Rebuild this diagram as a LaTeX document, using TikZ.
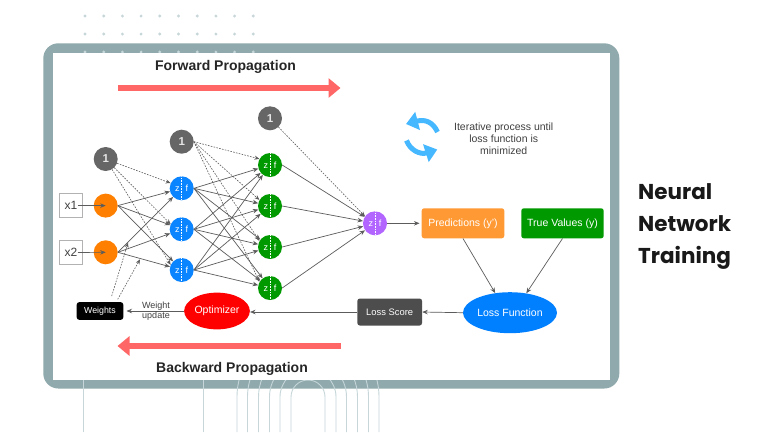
\documentclass[tikz,border=0pt]{standalone}
\usepackage{fontspec}
\setmainfont{Liberation Sans}
\newfontfamily\titlefont{Poppins}
\usetikzlibrary{positioning,calc,shapes.geometric,arrows,arrows.meta}
\definecolor{framecol}{HTML}{8FA9AC}
\definecolor{tracecol}{HTML}{C6D6D9}
\definecolor{redarrow}{HTML}{FF6666}
\definecolor{cyclecol}{HTML}{45B8FF}
\definecolor{linecol}{HTML}{5C5C5C}
\definecolor{biascol}{HTML}{666666}
\definecolor{inputcol}{HTML}{FF8000}
\definecolor{hiddenblue}{HTML}{0A84FF}
\definecolor{hiddengreen}{HTML}{009900}
\definecolor{outcol}{HTML}{B266FF}
\definecolor{predcol}{HTML}{FF9933}
\definecolor{losscol}{HTML}{007FFF}
\definecolor{scorecol}{HTML}{4D4D4D}

\begin{document}
\begin{tikzpicture}[x=1pt,y=-1pt]
    \tikzstyle{every node}=[inner sep=0]
    \tikzstyle{note}=[align=center,text=black!75]
    \tikzstyle{heading}=[font=\bfseries\fontsize{14}{16}\selectfont,text=black!85]
    \tikzstyle{inbox}=[draw=black!30,line width=0.8,minimum size=23.5,font=\fontsize{12}{14}\selectfont,text=black!75]
    \tikzstyle{bias}=[circle,fill=biascol,minimum size=24,text=white!90!black,font=\bfseries\fontsize{11.5}{13}\selectfont]
    \tikzstyle{input}=[circle,fill=inputcol,minimum size=24]
    \tikzstyle{neuron}=[circle,minimum size=24,text=white,font=\fontsize{9}{11}\selectfont,
        path picture={\draw[white,densely dotted,line width=0.6] (path picture bounding box.north) -- (path picture bounding box.south);}]
    \tikzstyle{block}=[rounded corners=2.5,text=white,font=\fontsize{10.5}{12}\selectfont]
    \tikzstyle{wire}=[-{Stealth[length=5.5,width=4.5]},linecol,line width=0.7]
    \tikzstyle{dots}=[-{Stealth[length=5,width=4]},linecol,line width=0.6,dash pattern=on 1.6 off 1.3]
    \tikzstyle{bigarrow}=[redarrow,line width=6,-{Triangle[length=12,width=19]}]
    \tikzstyle{cycle}=[cyclecol,line width=5,-{Triangle[length=12,width=18]}]
    {
        \fill[white] (0,0) rectangle (768,432);
        \useasboundingbox (0,0) rectangle (768,432);

        % frame with traces and dots over it
        \fill[framecol,rounded corners=15] (43.3,43.3) rectangle (619.3,388.5);
        \foreach \x in {83.5,203}
            \draw[tracecol,line width=0.9] (\x,432) -- (\x,370);
        \foreach \r in {17,28,38.5,49.5,60.5,71}
            \draw[tracecol,line width=0.9] (308-\r,432) -- (308-\r,397) arc[start angle=180,end angle=360,radius=\r] -- (308+\r,432);
        \foreach \i in {0,...,9}
            \foreach \y in {16,34,52}
                \fill[tracecol] (85+18.7*\i,\y) circle (1.6);
        \fill[white] (53.3,53.3) rectangle (610,380);

        \node[heading] (fwdlabel) at (225.5,67) {Forward Propagation};
        \node[heading] (backlabel) at (232,368.5) {Backward Propagation};

        \coordinate (fwdstart) at (118,88);
        \coordinate (fwdend) at (340.5,88);
        \coordinate (backstart) at (340.5,346);
        \coordinate (backend) at (117.5,346);
        \draw[bigarrow] (fwdstart) -- (fwdend);
        \draw[bigarrow] (backstart) -- (backend);

        % input layer
        \node[inbox] (x1) at (71,205.5) {x1};
        \node[inbox] (x2) at (71,252.5) {x2};
        \node[input] (in1) at (105.7,205.6) {};
        \node[input] (in2) at (105.7,252.3) {};
        \node[bias] (b1) at (105.7,159) {1};
        \node[bias] (b2) at (181.7,141.7) {1};
        \node[bias] (b3) at (270,118.3) {1};

        % hidden layers
        \foreach \n/\y in {1/188.3,2/229.3,3/270}
            \node[neuron,fill=hiddenblue] (h\n) at (181.7,\y) {z\hspace{6pt}f};
        \foreach \n/\y in {1/165,2/206,3/247,4/288}
            \node[neuron,fill=hiddengreen] (g\n) at (270,\y) {z\hspace{6pt}f};
        \node[neuron,fill=outcol] (out) at (375,223.3) {z\hspace{6pt}f};

        \draw[wire,shorten <=7] (x1.center) -- (in1.center);
        \draw[wire,shorten <=7] (x2.center) -- (in2.center);

        \foreach \a in {1,2}
            \foreach \b in {1,2,3}
                \draw[wire] (in\a.east) -- (h\b);
        \foreach \a in {1,2,3}
            \foreach \b in {1,2,3,4}
                \draw[wire] (h\a.east) -- (g\b);
        \foreach \a in {1,2,3,4}
            \draw[wire] (g\a.east) -- (out);

        \foreach \b in {1,2,3}
            \draw[dots] (b1) -- (h\b.155);
        \foreach \b in {1,2,3,4}
            \draw[dots] (b2.east) -- (g\b.150);
        \draw[dots] (b3) -- (out.145);

        % output side
        \node[block,fill=predcol,minimum width=82.6,minimum height=30] (pred) at (463,223.3) {Predictions (y')};
        \node[block,fill=hiddengreen,minimum width=82.4,minimum height=30] (truth) at (562.5,223.3) {True Values (y)};
        \node[ellipse,fill=losscol,minimum width=94,minimum height=41,text=white,font=\fontsize{10.5}{12}\selectfont] (loss) at (510,312.7) {Loss Function};
        \node[block,fill=scorecol,minimum width=64.7,minimum height=27,font=\fontsize{9.4}{11}\selectfont] (score) at (389.7,312) {Loss Score};
        \node[ellipse,fill=red,minimum width=65.7,minimum height=36.7,text=white,font=\fontsize{10.5}{12}\selectfont] (optim) at (217,311) {Optimizer};
        \node[block,fill=black,minimum width=46.6,minimum height=17.6,font=\fontsize{8.8}{10}\selectfont] (weights) at (100,311) {Weights};

        \draw[wire] (out.east) -- ([xshift=-2]pred.west);
        \draw[wire] (pred.south) -- (loss.127);
        \draw[wire] (truth.south) -- (loss.50);
        \draw[wire] (loss.west) -- (score.east);
        \draw[wire] (score.west) -- ([yshift=-1]optim.east);
        \draw[wire] (optim.west) -- ([xshift=3]weights.east);
        \node[note,font=\fontsize{9}{10.7}\selectfont] (wupdate) at (156,311.2) {Weight\\update};

        % weights feed back onto the input wires
        \coordinate (wback1) at (111.7,296);
        \coordinate (wback2) at (117.7,299.3);
        \coordinate (wtip1) at (128,242.7);
        \coordinate (wtip2) at (140,259.3);
        \draw[dots] (wback1) -- (wtip1);
        \draw[dots] (wback2) -- (wtip2);

        % iteration note
        \coordinate (cyc1a) at (437.5,132);
        \coordinate (cyc1b) at (406,124);
        \coordinate (cyc2a) at (406.5,140.5);
        \coordinate (cyc2b) at (437.3,149.5);
        \draw[cycle] (cyc1a) .. controls (433,122) and (425,119) .. (cyc1b);
        \draw[cycle] (cyc2a) .. controls (410,150) and (420,155) .. (cyc2b);
        \node[note,font=\fontsize{10.5}{12.2}\selectfont] (iter) at (503.7,139) {Iterative process until\\loss function is\\minimized};

        \node[align=left,anchor=west,font=\titlefont\bfseries\fontsize{21.5}{32}\selectfont,text=black!90] (title) at (638,226) {Neural\\Network\\Training};
    }
\end{tikzpicture}
\end{document}
